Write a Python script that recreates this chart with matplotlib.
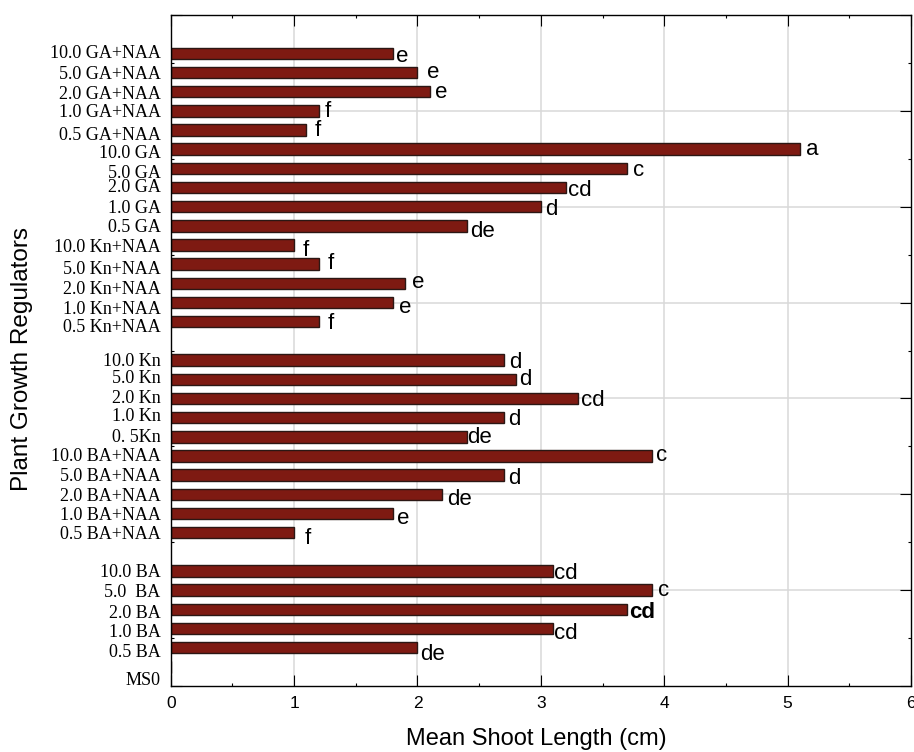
import numpy as np
import matplotlib
matplotlib.use("Agg")
import matplotlib.pyplot as plt
import matplotlib.ticker as mticker

# treatments, bottom to top as drawn
treatments = ["MS0", "0.5 BA", "1.0 BA", "2.0 BA", "5.0  BA", "10.0 BA",
              "0.5 BA+NAA", "1.0 BA+NAA", "2.0 BA+NAA", "5.0 BA+NAA", "10.0 BA+NAA",
              "0. 5Kn", "1.0 Kn", "2.0 Kn", "5.0 Kn", "10.0 Kn",
              "0.5 Kn+NAA", "1.0 Kn+NAA", "2.0 Kn+NAA", "5.0 Kn+NAA", "10.0 Kn+NAA",
              "0.5 GA", "1.0 GA", "2.0 GA", "5.0 GA", "10.0 GA",
              "0.5 GA+NAA", "1.0 GA+NAA", "2.0 GA+NAA", "5.0 GA+NAA", "10.0 GA+NAA"]
shoot_length = [0, 2.0, 3.1, 3.7, 3.9, 3.1,
                1.0, 1.8, 2.2, 2.7, 3.9,
                2.4, 2.7, 3.3, 2.8, 2.7,
                1.2, 1.8, 1.9, 1.2, 1.0,
                2.4, 3.0, 3.2, 3.7, 5.1,
                1.1, 1.2, 2.1, 2.0, 1.8]
letters = ["", "de", "cd", "cd", "c", "cd",
           "f", "e", "de", "d", "c",
           "de", "d", "cd", "d", "d",
           "f", "e", "e", "f", "f",
           "de", "d", "cd", "c", "a",
           "f", "f", "e", "e", "e"]
bold_letter = "2.0 BA"
gap_after = ["10.0 BA", "10.0 Kn"]

# hand nudges (pixels, + = down / right) to mimic the original placement
letter_dx = [0, 4, 1.7, 3.3, 6.7, 1.7, 11.3, 5, 5.7, 5, 4.7, 1.6, 5, 4, 4, 6.7,
             10, 7, 8, 10, 10, 4.7, 5, 3, 6.7, 6.7, 9, 7, 6, 11, 4]
letter_dy = [0, 4.8, 2.5, 0.5, 0, 0.5, 3.4, 4.6, 3, 1, 0, -1.5, 0, 0, -1.7, 0,
             0, 4.7, -1.3, -3, 3, 3.7, 1, 1, 1.7, 0, -2, -1.5, 1.3, 0, 3]
label_dy = [11.5, 3.3, 2.6, 2, 1, 0, 0, 0.6, 0, 0, -0.8, -0.8, -3, -2, -3, 0,
            3.6, 5, 4, 3, 1, 0, 0, -1.7, 3, 3, 4, 0, 1, 0, -1.4]

W, H = 914, 752
fig = plt.figure(figsize=(W / 100, H / 100), dpi=100)
ax = fig.add_axes([170.7 / W, 1 - 686 / H, (911 - 170.7) / W, (686 - 15) / H])

pos = []
p = 0.0
for name in treatments:
    p += 0.2
    pos.append(p)
    if name in gap_after:
        p += 0.2

# grid under the bars, ticks on top of them (as in the original)
grid_c = "#d9d9d9"
for gx in range(1, 6):
    ax.axvline(gx, color=grid_c, linewidth=1.1, zorder=0.5)
for gy in range(1, 7):
    ax.axhline(gy, color=grid_c, linewidth=1.1, zorder=0.5)

bar_color = "#7e1a12"
ax.barh(pos, shoot_length, height=0.12, color=bar_color, edgecolor="#2b1714",
        linewidth=1.0, zorder=2)

sans = "Liberation Sans"
for i, (v, y, t) in enumerate(zip(shoot_length, pos, letters)):
    if not t:
        continue
    fix = 2.2 if any(c in t for c in "df") else 0.0
    ax.annotate(t, xy=(v, y), xytext=(letter_dx[i] - 1, -(letter_dy[i] + fix)),
                textcoords="offset pixels", ha="left", va="center",
                fontsize=16, family=sans, zorder=4,
                fontweight="bold" if treatments[i] == bold_letter else "normal")

for i, (name, y) in enumerate(zip(treatments, pos)):
    ax.annotate(name, xy=(0, y), xytext=(-10, -(label_dy[i] + 1.8)),
                textcoords="offset pixels", ha="right", va="center",
                fontsize=13, family="Liberation Serif", annotation_clip=False)

ax.set_xlim(0, 6)
ax.set_ylim(0, 7)
ax.set_xticks(range(7))
ax.xaxis.set_minor_locator(mticker.MultipleLocator(0.5))
ax.set_yticks(range(8))
ax.yaxis.set_minor_locator(mticker.MultipleLocator(0.5))
ax.set_yticklabels([])
ax.tick_params(which="both", direction="in", top=True, right=True, width=0.8,
               colors="black")
ax.tick_params(which="major", length=8)
ax.tick_params(which="minor", length=2)
ax.tick_params(axis="x", which="major", pad=7, labelsize=12.5)
for lab in ax.get_xticklabels():
    lab.set_family(sans)

for sp in ax.spines.values():
    sp.set_linewidth(1.0)
    sp.set_zorder(5)

fig.text(536 / W, 1 - 739 / H, "Mean Shoot Length (cm)", ha="center", va="center",
         fontsize=17, family=sans)
fig.text(22 / W, 1 - 359 / H, "Plant Growth Regulators", ha="center", va="center",
         rotation=90, fontsize=17.5, family=sans)

fig.savefig("out.png", dpi=100)
